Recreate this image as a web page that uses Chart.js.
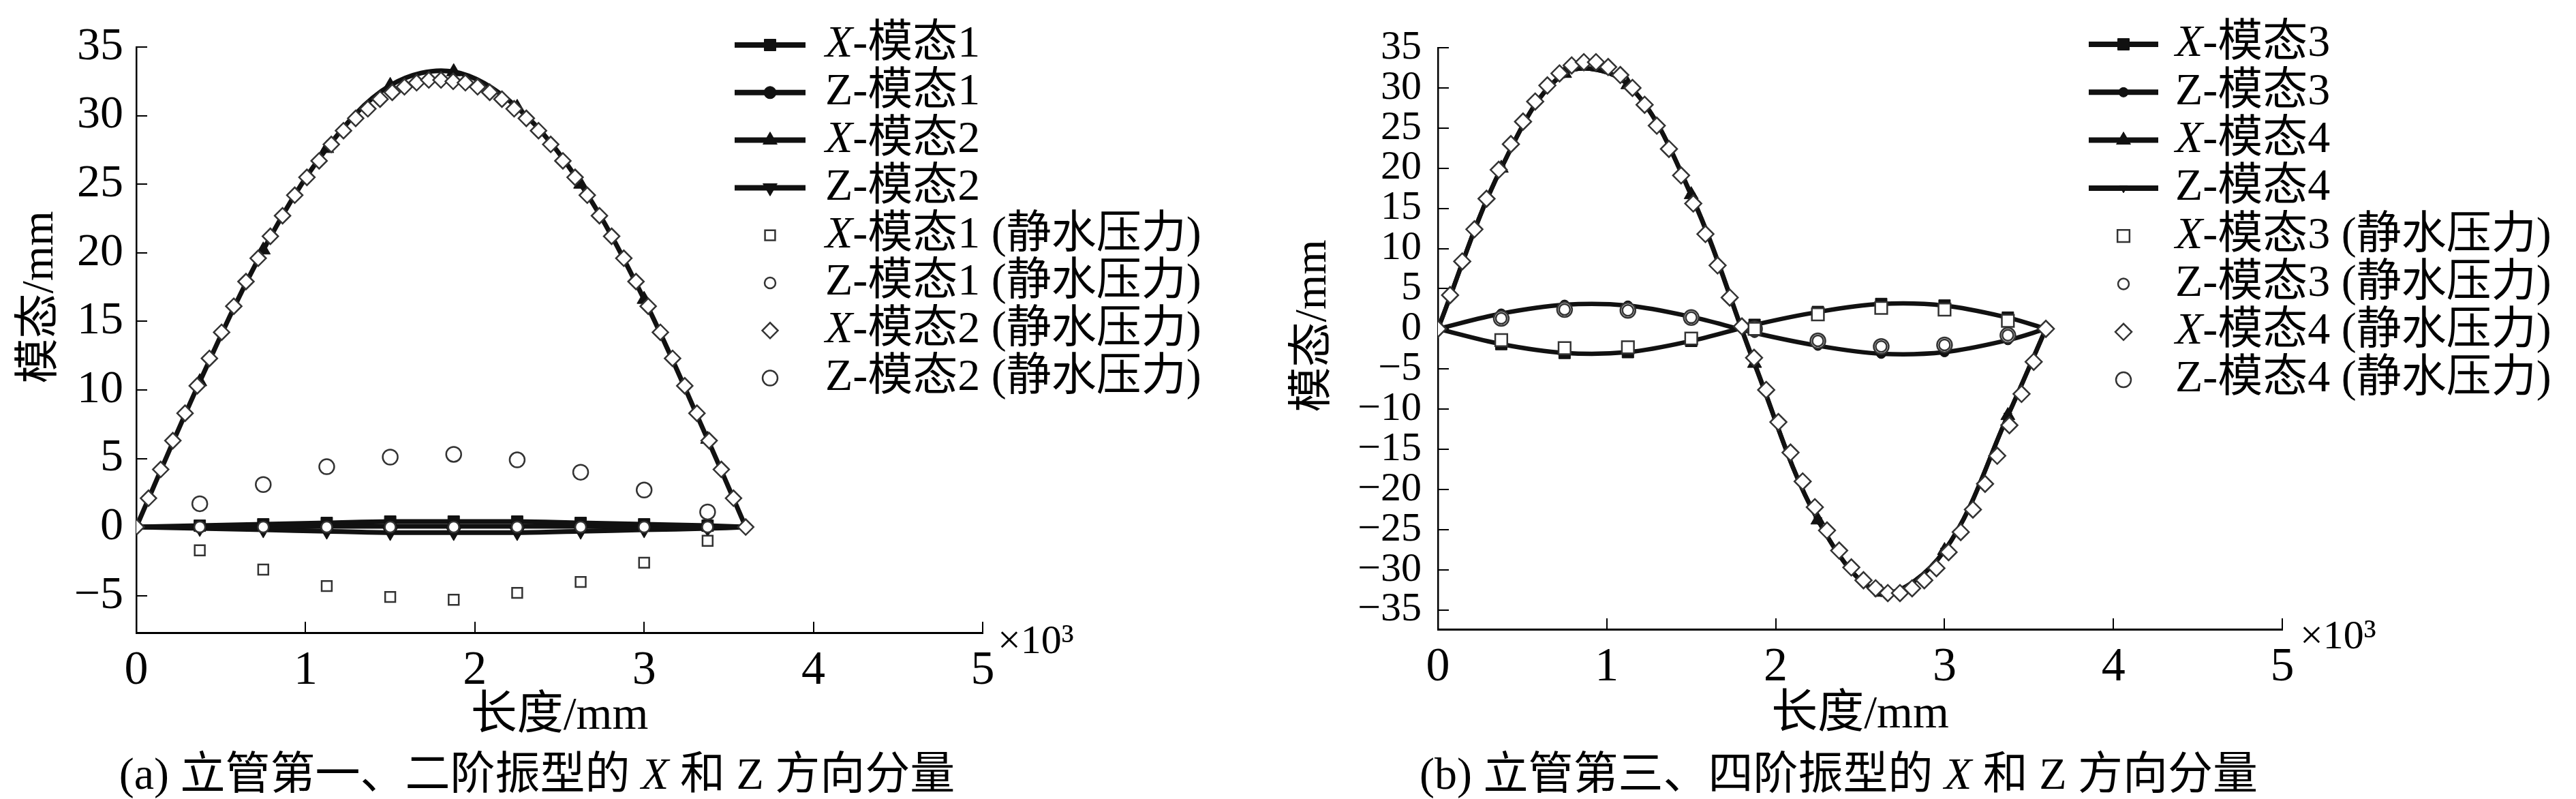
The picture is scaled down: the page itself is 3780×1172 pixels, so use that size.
<!DOCTYPE html>
<html>
<head>
<meta charset="utf-8">
<title>立管振型</title>
<script src="https://cdn.jsdelivr.net/npm/chart.js@4.4.1/dist/chart.umd.min.js"></script>
<style>
  body { margin: 0; background: #fff; }
  #page { position: relative; width: 3780px; height: 1172px; overflow: hidden; }
  .panel { position: absolute; top: 0; width: 1890px; height: 1172px; }
  .caption {
    position: absolute; top: 1102px; transform: translateX(-50%);
    font: 66px "Liberation Serif", "Noto Sans CJK SC", serif;
    line-height: 1; white-space: nowrap; color: #000;
  }
  .caption i { font-style: italic; }
</style>
</head>
<body>
<div id="page">
  <div class="panel" style="left:0"><canvas id="chartA" width="1890" height="1172"></canvas></div>
  <div class="panel" style="left:1890px"><canvas id="chartB" width="1890" height="1172"></canvas></div>
  <div class="caption" style="left:788px">(a) 立管第一、二阶振型的 <i>X</i> 和 Z 方向分量</div>
  <div class="caption" style="left:2698px">(b) 立管第三、四阶振型的 <i>X</i> 和 Z 方向分量</div>
</div>
<script>
// ---- data, lengths in mm, mode values in mm ----
const xLine = [0, 375, 750, 1125, 1500, 1875, 2250, 2625, 3000, 3375, 3600];
const xHydro = [375, 750, 1125, 1500, 1875, 2250, 2625, 3000, 3375];
const xDense = [0, 72, 144, 216, 288, 360, 432, 504, 576, 648, 720, 792, 864, 936, 1008, 1080,
  1152, 1224, 1296, 1368, 1440, 1512, 1584, 1656, 1728, 1800, 1872, 1944, 2016, 2088, 2160,
  2232, 2304, 2376, 2448, 2520, 2592, 2664, 2736, 2808, 2880, 2952, 3024, 3096, 3168, 3240,
  3312, 3384, 3456, 3528, 3600];

const xTicks = [0, 1000, 2000, 3000, 4000, 5000];
const xTickLabels = ['0', '1', '2', '3', '4', '5'];
const yTicksA = [-5, 0, 5, 10, 15, 20, 25, 30, 35];
const yTickLabelsA = ['\u22125', '0', '5', '10', '15', '20', '25', '30', '35'];
const yTicksB = [-35, -30, -25, -20, -15, -10, -5, 0, 5, 10, 15, 20, 25, 30, 35];
const yTickLabelsB = ['\u221235', '\u221230', '\u221225', '\u221220', '\u221215', '\u221210', '\u22125',
  '0', '5', '10', '15', '20', '25', '30', '35'];

// (a) first and second modes
const xMode1 = [0, 0.1, 0.2, 0.3, 0.4, 0.4, 0.4, 0.3, 0.2, 0.1, 0];
const zMode1 = [0, 0, 0, 0.05, 0.05, 0.05, 0.05, 0.05, 0, 0, 0];
const xMode2 = [0, 10.6, 20.2, 27.6, 32.2, 33.2, 30.6, 25.0, 16.6, 6.4, 0];
const zMode2 = [0, -0.1, -0.2, -0.3, -0.4, -0.4, -0.4, -0.3, -0.2, -0.1, 0];
const xMode1Hydro = [-1.7, -3.1, -4.3, -5.1, -5.3, -4.8, -4.0, -2.6, -1.0];
const zMode1Hydro = [0, 0, 0, 0, 0, 0, 0, 0, 0];
const xMode2Hydro = [0, 2.1, 4.2, 6.3, 8.3, 10.3, 12.3, 14.2, 16.1, 17.9, 19.6, 21.2, 22.7, 24.2,
  25.5, 26.7, 27.9, 28.9, 29.8, 30.5, 31.2, 31.7, 32.1, 32.4, 32.6, 32.6, 32.5, 32.4, 32.1, 31.7,
  31.2, 30.5, 29.8, 28.9, 27.9, 26.7, 25.5, 24.2, 22.7, 21.2, 19.6, 17.9, 16.1, 14.2, 12.3, 10.3,
  8.3, 6.3, 4.2, 2.1, 0];
const zMode2Hydro = [1.7, 3.1, 4.4, 5.1, 5.3, 4.9, 4.0, 2.7, 1.1];

// (b) third and fourth modes
const xMode3 = [0, -1.9, -3.0, -2.9, -1.5, 0.5, 2.1, 3.1, 2.9, 1.4, 0];
const zMode3 = [0, 1.9, 3.0, 2.9, 1.5, -0.5, -2.1, -3.1, -2.9, -1.4, 0];
const xMode4 = [0, 20.0, 31.8, 30.4, 16.7, -4.3, -23.8, -32.8, -27.6, -10.8, 0];
const zMode4 = [0, 20.0, 31.8, 30.4, 16.6, -4.4, -23.8, -32.8, -27.6, -10.8, 0];
const xMode3Hydro = [-1.4, -2.4, -2.3, -1.2, 0, 1.8, 2.6, 2.4, 1.0];
const zMode3Hydro = [1.3, 2.4, 2.3, 1.4, 0, -1.5, -2.2, -2.0, -0.8];
const xMode4Hydro = [0, 4.2, 8.4, 12.4, 16.2, 19.8, 23.0, 25.8, 28.3, 30.3, 31.8, 32.8, 33.2, 33.2,
  32.6, 31.6, 30.0, 27.9, 25.3, 22.4, 19.1, 15.6, 11.8, 7.9, 3.9, 0.3, -3.6, -7.6, -11.6, -15.4,
  -19.0, -22.2, -25.1, -27.6, -29.7, -31.3, -32.3, -32.9, -32.9, -32.3, -31.3, -29.8, -27.8,
  -25.3, -22.5, -19.3, -15.8, -12.0, -8.1, -4.1, 0];
const zMode4Hydro = [1.3, 2.4, 2.3, 1.4, 0, -1.5, -2.2, -2.0, -0.8];

const FONT = '"Liberation Serif", "Noto Sans CJK SC", serif';
const INK = '#111';

// solid line with filled markers (no marker at the two ends)
function lineSet(label, xs, ys, style, rotation, r, width) {
  return {
    label: label,
    data: xs.map((x, i) => ({ x: x, y: ys[i] })),
    showLine: true,
    borderColor: INK,
    borderWidth: width,
    tension: 0.35,
    pointStyle: style,
    pointRotation: rotation,
    pointRadius: c => (c.dataIndex === 0 || c.dataIndex === xs.length - 1) ? 0 : r,
    pointBackgroundColor: INK,
    pointBorderColor: INK,
    pointBorderWidth: 1,
    legendRadius: r,
    order: 2
  };
}

// hollow markers for the hydrostatic pressure results
function hydroSet(label, xs, ys, style, r) {
  return {
    label: label,
    data: xs.map((x, i) => ({ x: x, y: ys[i] })),
    showLine: false,
    pointStyle: style,
    pointRotation: 0,
    pointRadius: r,
    pointBackgroundColor: '#fff',
    pointBorderColor: '#333',
    pointBorderWidth: 2.5,
    legendRadius: r,
    order: 1
  };
}

// legend drawn at the upper right, overlapping the plot like the original
const sideLegend = {
  id: 'sideLegend',
  afterDraw(chart, args, o) {
    const ctx = chart.ctx;
    ctx.save();
    ctx.textBaseline = 'middle';
    ctx.textAlign = 'left';
    chart.data.datasets.forEach((ds, i) => {
      const y = o.top + i * o.gap;
      const cx = (o.lineX0 + o.lineX1) / 2;
      if (ds.showLine) {
        ctx.strokeStyle = ds.borderColor;
        ctx.lineWidth = o.lineWidth;
        ctx.beginPath();
        ctx.moveTo(o.lineX0, y);
        ctx.lineTo(o.lineX1, y);
        ctx.stroke();
      }
      ctx.fillStyle = ds.pointBackgroundColor;
      ctx.strokeStyle = ds.pointBorderColor;
      ctx.lineWidth = ds.pointBorderWidth;
      Chart.helpers.drawPoint(ctx, {
        pointStyle: ds.pointStyle,
        rotation: ds.pointRotation || 0,
        radius: ds.legendRadius,
        borderWidth: ds.pointBorderWidth
      }, cx, y);

      // first letter (X or Z) then the rest of the label
      ctx.fillStyle = '#000';
      const head = ds.label.charAt(0);
      const rest = ds.label.slice(1);
      ctx.font = (head === 'X' ? 'italic ' : '') + o.fontSize + 'px ' + FONT;
      ctx.fillText(head, o.textX, y);
      const w = ctx.measureText(head).width;
      ctx.font = o.fontSize + 'px ' + FONT;
      ctx.fillText(rest, o.textX + w, y);
    });
    ctx.restore();
  }
};

// rotated y title and the x10^3 multiplier
const axisExtras = {
  id: 'axisExtras',
  afterDraw(chart, args, o) {
    const ctx = chart.ctx;
    const area = chart.chartArea;
    ctx.save();
    ctx.fillStyle = '#000';
    ctx.translate(o.yTitleX, o.yTitleY);
    ctx.rotate(-Math.PI / 2);
    ctx.font = '66px ' + FONT;
    ctx.textAlign = 'center';
    ctx.textBaseline = 'middle';
    ctx.fillText('模态/mm', 0, 0);
    ctx.restore();

    ctx.save();
    ctx.fillStyle = '#000';
    ctx.font = '60px ' + FONT;
    ctx.textAlign = 'left';
    ctx.textBaseline = 'alphabetic';
    ctx.fillText('\u00d710\u00b3', area.right + o.expDx, area.bottom + o.expDy);
    ctx.restore();
  }
};

function makeChart(id, p) {
  return new Chart(document.getElementById(id), {
    type: 'scatter',
    data: { datasets: p.datasets },
    options: {
      responsive: false,
      animation: false,
      devicePixelRatio: 1,
      events: [],
      layout: { padding: p.padding },
      plugins: {
        legend: { display: false },
        tooltip: { enabled: false },
        sideLegend: p.legend,
        axisExtras: p.extras
      },
      scales: {
        x: {
          type: 'linear',
          min: 0,
          max: 5000,
          afterFit: s => { s.height = p.xHeight; },
          afterBuildTicks: s => { s.ticks = xTicks.map(v => ({ value: v })); },
          ticks: {
            callback: (v, i) => xTickLabels[i],
            font: { family: FONT, size: 70, lineHeight: 1 },
            color: '#000',
            padding: p.xTickPad,
            maxRotation: 0,
            autoSkip: false
          },
          grid: { drawOnChartArea: false, drawTicks: true, tickLength: -16, color: '#000', lineWidth: 2 },
          border: { display: true, color: '#000', width: 3 },
          title: {
            display: true,
            text: '长度/mm',
            color: '#000',
            font: { family: FONT, size: 68, lineHeight: 1.2 },
            padding: { top: 0, bottom: p.xTitlePad }
          }
        },
        y: {
          type: 'linear',
          min: p.yMin,
          max: p.yMax,
          afterFit: s => { s.width = p.yWidth; },
          afterBuildTicks: s => { s.ticks = p.yTicks.map(v => ({ value: v })); },
          ticks: {
            callback: (v, i) => p.yTickLabels[i],
            font: { family: FONT, size: p.yTickSize, lineHeight: 1 },
            color: '#000',
            padding: p.yTickPad,
            autoSkip: false
          },
          grid: { drawOnChartArea: false, drawTicks: true, tickLength: -16, color: '#000', lineWidth: 2 },
          border: { display: true, color: '#000', width: 2.5 }
        }
      }
    },
    plugins: [sideLegend, axisExtras]
  });
}

makeChart('chartA', {
  datasets: [
    lineSet('X-模态1', xLine, xMode1, 'rect', 0, 12, 7),
    lineSet('Z-模态1', xLine, zMode1, 'circle', 0, 9, 7),
    lineSet('X-模态2', xLine, xMode2, 'triangle', 0, 12, 7),
    lineSet('Z-模态2', xLine, zMode2, 'triangle', 180, 12, 7),
    hydroSet('X-模态1 (静水压力)', xHydro, xMode1Hydro, 'rect', 10.5),
    hydroSet('Z-模态1 (静水压力)', xHydro, zMode1Hydro, 'circle', 8),
    hydroSet('X-模态2 (静水压力)', xDense, xMode2Hydro, 'rectRot', 11.5),
    hydroSet('Z-模态2 (静水压力)', xHydro, zMode2Hydro, 'circle', 11)
  ],
  padding: { left: 0, right: 448, top: 62, bottom: 0 },
  xHeight: 244,
  yWidth: 200,
  yMin: -7.7,
  yMax: 35,
  yTicks: yTicksA,
  yTickLabels: yTickLabelsA,
  yTickSize: 68,
  yTickPad: 35,
  xTickPad: 38,
  xTitlePad: 80,
  legend: { top: 66, gap: 69.8, lineX0: 1078, lineX1: 1182, lineWidth: 8, textX: 1211, fontSize: 66 },
  extras: { yTitleX: 60, yTitleY: 436, expDx: 22, expDy: 30 }
});

makeChart('chartB', {
  datasets: [
    lineSet('X-模态3', xLine, xMode3, 'rect', 0, 12, 6.5),
    lineSet('Z-模态3', xLine, zMode3, 'circle', 0, 7, 6.5),
    lineSet('X-模态4', xLine, xMode4, 'triangle', 0, 12, 6.5),
    lineSet('Z-模态4', xLine, zMode4, 'triangle', 180, 7, 6.5),
    hydroSet('X-模态3 (静水压力)', xHydro, xMode3Hydro, 'rect', 12.5),
    hydroSet('Z-模态3 (静水压力)', xHydro, zMode3Hydro, 'circle', 8),
    hydroSet('X-模态4 (静水压力)', xDense, xMode4Hydro, 'rectRot', 12),
    hydroSet('Z-模态4 (静水压力)', xHydro, zMode4Hydro, 'circle', 11)
  ],
  padding: { left: 0, right: 431, top: 32, bottom: 0 },
  xHeight: 249,
  yWidth: 220,
  yMin: -37.4,
  yMax: 35,
  yTicks: yTicksB,
  yTickLabels: yTickLabelsB,
  yTickSize: 60,
  yTickPad: 40,
  xTickPad: 38,
  xTitlePad: 82,
  legend: { top: 65, gap: 70.3, lineX0: 1175, lineX1: 1277, lineWidth: 8, textX: 1302, fontSize: 66 },
  extras: { yTitleX: 38, yTitleY: 478, expDx: 26, expDy: 28 }
});
</script>
</body>
</html>
